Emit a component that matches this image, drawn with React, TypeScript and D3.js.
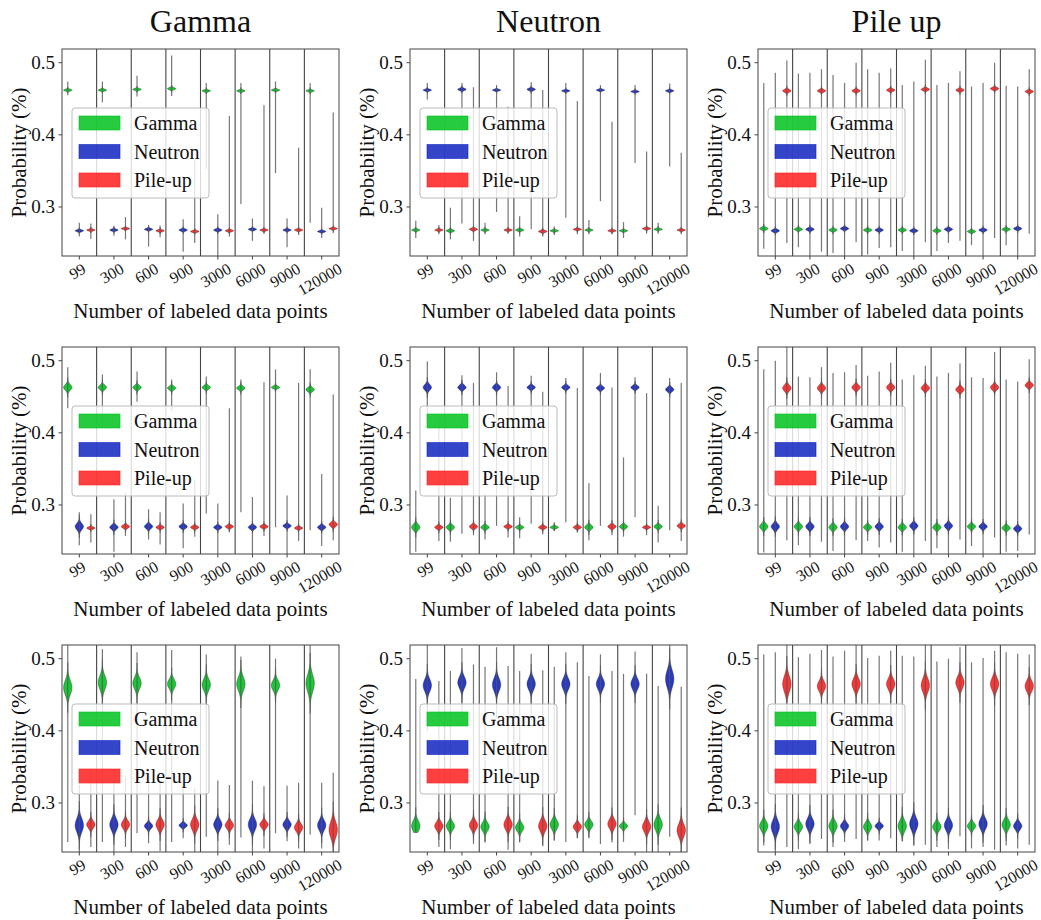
import React from "react";
import * as d3 from "d3";

const groups = ["99", "300", "600", "900", "3000", "6000", "9000", "120000"];
const classes = ["Gamma", "Neutron", "Pile-up"];
const colTitles = ["Gamma", "Neutron", "Pile up"];
const yTicks = [0.3, 0.4, 0.5];
const colors = ["#00c21f", "#1024c0", "#ff1f1f"];

// each entry: [median, spread, min, max] for one group
const r1GammaG = [[0.462, .0013, .455, .474], [.462, .0013, .445, .474], [.463, .0013, .453, .482], [.464, .0015, .454, .510], [.461, .0013, .353, .472], [.461, .0013, .304, .472], [.462, .0013, .347, .474], [.461, .0012, .278, .472]];
const r1GammaN = [[.267, .0013, .259, .278], [.268, .0013, .260, .274], [.269, .0013, .245, .275], [.268, .0015, .238, .283], [.268, .0015, .225, .290], [.269, .0013, .253, .284], [.268, .0013, .244, .284], [.266, .0012, .257, .299]];
const r1GammaP = [[.268, .0012, .256, .277], [.270, .0012, .255, .286], [.267, .0013, .258, .274], [.266, .0013, .250, .367], [.267, .0013, .259, .426], [.268, .0012, .263, .441], [.268, .0013, .261, .382], [.270, .0012, .264, .431]];

const r1NeutronG = [[.268, .0013, .257, .281], [.267, .0015, .255, .299], [.268, .0012, .262, .278], [.268, .0014, .259, .287], [.267, .0012, .261, .273], [.268, .0012, .262, .282], [.267, .0012, .257, .279], [.269, .0012, .263, .278]];
const r1NeutronN = [[.462, .0013, .449, .472], [.463, .0016, .277, .472], [.462, .0012, .293, .469], [.463, .0016, .269, .473], [.461, .0012, .285, .472], [.462, .0012, .308, .469], [.460, .0012, .361, .469], [.461, .0013, .356, .471]];
const r1NeutronP = [[.268, .0012, .262, .275], [.269, .0015, .253, .466], [.268, .0012, .263, .439], [.266, .0015, .259, .462], [.269, .0012, .262, .447], [.267, .0012, .262, .418], [.270, .0013, .263, .377], [.268, .0012, .262, .375]];

const r1PileG = [[.270, .0018, .242, .472], [.269, .0017, .244, .485], [.268, .0017, .236, .483], [.268, .0017, .234, .491], [.268, .0017, .239, .469], [.267, .0017, .239, .469], [.266, .0016, .247, .467], [.269, .0017, .247, .468]];
const r1PileN = [[.267, .0018, .225, .486], [.269, .0018, .225, .486], [.270, .0018, .225, .472], [.268, .0017, .243, .486], [.267, .0017, .225, .474], [.269, .0018, .250, .472], [.268, .0017, .225, .472], [.270, .0017, .225, .467]];
const r1PileP = [[.461, .0020, .250, .503], [.461, .0018, .238, .491], [.461, .0018, .251, .500], [.462, .0018, .244, .492], [.463, .0018, .251, .504], [.462, .0018, .253, .488], [.464, .0018, .257, .500], [.460, .0017, .263, .491]];

const r2GammaG = [[.463, .004, .434, .491], [.463, .003, .410, .481], [.463, .0028, .443, .485], [.462, .0025, .430, .474], [.463, .0025, .288, .478], [.462, .0025, .290, .474], [.463, .0018, .269, .488], [.460, .0028, .265, .488]];
const r2GammaN = [[.270, .0045, .244, .290], [.269, .003, .235, .308], [.270, .003, .252, .294], [.270, .0025, .240, .302], [.269, .0022, .225, .302], [.269, .0025, .225, .311], [.271, .0022, .225, .313], [.269, .0025, .243, .343]];
const r2GammaP = [[.268, .0016, .248, .287], [.270, .0022, .257, .317], [.269, .002, .245, .290], [.269, .002, .256, .335], [.270, .002, .262, .434], [.270, .002, .257, .470], [.268, .0017, .250, .469], [.273, .003, .251, .453]];

const r2NeutronG = [[.269, .004, .235, .320], [.269, .003, .249, .310], [.269, .0025, .252, .316], [.269, .002, .254, .283], [.269, .0016, .264, .276], [.269, .003, .251, .330], [.270, .0025, .256, .366], [.270, .0025, .248, .299]];
const r2NeutronN = [[.463, .004, .420, .499], [.463, .003, .260, .480], [.463, .003, .271, .484], [.463, .0025, .274, .479], [.463, .0025, .276, .476], [.462, .0025, .271, .483], [.463, .0025, .283, .477], [.460, .003, .265, .476]];
const r2NeutronP = [[.269, .0022, .250, .420], [.270, .0025, .258, .469], [.270, .002, .255, .465], [.269, .002, .259, .457], [.269, .002, .262, .462], [.270, .0025, .258, .463], [.269, .0016, .258, .455], [.271, .0025, .250, .469]];

const r2PileG = [[.270, .0038, .234, .488], [.270, .0035, .244, .478], [.269, .0035, .236, .483], [.269, .003, .250, .479], [.269, .0033, .235, .474], [.269, .0033, .240, .478], [.270, .003, .243, .477], [.268, .003, .235, .474]];
const r2PileN = [[.270, .004, .225, .500], [.270, .0037, .225, .477], [.270, .0035, .225, .484], [.270, .0033, .241, .485], [.271, .0035, .225, .480], [.271, .0035, .225, .483], [.270, .003, .225, .476], [.267, .003, .236, .471]];
const r2PileP = [[.462, .0042, .251, .525], [.462, .0038, .249, .491], [.463, .0035, .251, .494], [.463, .0035, .248, .497], [.462, .0035, .250, .493], [.460, .0035, .252, .496], [.463, .0035, .255, .512], [.466, .0032, .259, .502]];

const r3GammaG = [[.460, .010, .246, .525], [.467, .0095, .246, .513], [.466, .008, .258, .509], [.465, .0065, .246, .512], [.464, .008, .253, .506], [.465, .0095, .252, .503], [.463, .007, .258, .500], [.466, .012, .256, .525]];
const r3GammaN = [[.269, .0095, .225, .325], [.270, .008, .225, .331], [.268, .0038, .244, .330], [.269, .0028, .251, .331], [.270, .0065, .225, .331], [.270, .008, .225, .331], [.270, .005, .247, .324], [.269, .007, .237, .328]];
const r3GammaP = [[.270, .005, .239, .349], [.270, .0055, .239, .337], [.270, .0065, .233, .331], [.270, .0075, .225, .321], [.269, .005, .242, .325], [.270, .0045, .237, .323], [.266, .0055, .237, .328], [.263, .011, .225, .342]];

const r3NeutronG = [[.268, .0075, .259, .472], [.268, .0055, .236, .483], [.267, .006, .245, .489], [.266, .0055, .245, .483], [.270, .0065, .248, .489], [.270, .005, .251, .476], [.268, .0033, .246, .479], [.270, .008, .225, .462]];
const r3NeutronN = [[.463, .0085, .400, .525], [.467, .008, .410, .515], [.464, .009, .418, .516], [.465, .008, .415, .507], [.465, .008, .246, .509], [.465, .0075, .243, .506], [.465, .0075, .283, .510], [.472, .012, .253, .525]];
const r3NeutronP = [[.268, .0055, .239, .469], [.269, .006, .243, .492], [.270, .007, .235, .490], [.268, .0075, .240, .484], [.267, .0045, .251, .495], [.271, .0065, .245, .483], [.267, .007, .225, .479], [.262, .009, .225, .461]];

const r3PileG = [[.268, .0065, .241, .506], [.267, .0055, .236, .502], [.268, .0065, .239, .503], [.267, .0055, .248, .501], [.268, .0075, .247, .504], [.267, .0055, .239, .496], [.268, .0045, .237, .495], [.270, .0065, .241, .509]];
const r3PileN = [[.267, .009, .225, .509], [.271, .0075, .243, .507], [.268, .0045, .246, .511], [.268, .0033, .248, .504], [.271, .0085, .241, .503], [.269, .007, .236, .500], [.271, .0075, .239, .501], [.268, .005, .237, .507]];
const r3PileP = [[.465, .011, .239, .525], [.462, .007, .250, .512], [.465, .008, .250, .525], [.465, .0075, .251, .511], [.463, .0095, .242, .525], [.467, .008, .254, .516], [.465, .0085, .235, .511], [.462, .0075, .242, .506]];

const panels = [
  [[r1GammaG, r1GammaN, r1GammaP], [r1NeutronG, r1NeutronN, r1NeutronP], [r1PileG, r1PileN, r1PileP]],
  [[r2GammaG, r2GammaN, r2GammaP], [r2NeutronG, r2NeutronN, r2NeutronP], [r2PileG, r2PileN, r2PileP]],
  [[r3GammaG, r3GammaN, r3GammaP], [r3NeutronG, r3NeutronN, r3NeutronP], [r3PileG, r3PileN, r3PileP]],
];

const colX = [62, 410, 758];
const rowY = [49, 347, 645];
const pw = 277, ph = 207;
const HW = 4.2;
const font = "Liberation Serif, DejaVu Serif, serif";

function Panel({ r, c }) {
  const x0 = colX[c], y0 = rowY[r];
  const x = d3.scaleLinear().domain([0, 24]).range([x0, x0 + pw]);
  const y = d3.scaleLinear().domain([0.232, 0.519]).range([y0 + ph, y0]);
  const data = panels[r][c];
  const clipId = `clip-${r}-${c}`;

  const violin = (d, cx) => {
    const [m, s, lo, hi] = d;
    const a = Math.max(lo, m - 3.5 * s), b = Math.min(hi, m + 3.5 * s);
    const vs = d3.range(61).map((i) => a + ((b - a) * i) / 60);
    const w = (v) => HW * Math.exp(-0.5 * ((v - m) / s) ** 2);
    return d3.area().y((v) => y(v)).x0((v) => cx - w(v)).x1((v) => cx + w(v))(vs);
  };

  return (
    <g>
      <defs>
        <clipPath id={clipId}>
          <rect x={x0} y={y0} width={pw} height={ph} />
        </clipPath>
      </defs>
      <g clipPath={`url(#${clipId})`}>
        {d3.range(1, 8).map((g) => (
          <line key={g} x1={x(g * 3)} x2={x(g * 3)} y1={y0} y2={y0 + ph} stroke="#444" strokeWidth={1.1} />
        ))}
        {data.map((series, k) =>
          series.map((d, g) => {
            const cx = x(g * 3 + k + 0.5);
            return (
              <g key={`${k}-${g}`}>
                <path d={violin(d, cx)} fill={colors[k]} fillOpacity={0.9} stroke="#222" strokeOpacity={0.55} strokeWidth={0.7} />
                <line x1={cx} x2={cx} y1={y(d[2])} y2={y(d[3])} stroke="#555" strokeOpacity={0.8} strokeWidth={1.2} />
              </g>
            );
          })
        )}
      </g>
      <rect x={x0} y={y0} width={pw} height={ph} fill="none" stroke="#444" strokeWidth={1} />
      {yTicks.map((t) => (
        <g key={t}>
          <line x1={x0 - 3.5} x2={x0} y1={y(t)} y2={y(t)} stroke="#444" />
          <text x={x0 - 7} y={y(t)} textAnchor="end" dominantBaseline="central" fontSize={19} fontFamily={font} fill="#111">
            {t.toFixed(1)}
          </text>
        </g>
      ))}
      {groups.map((lab, g) => {
        const tx = x(g * 3 + 1.5);
        const fs = 16;
        const L = lab.length * 0.5 * fs;
        const cy = y0 + ph + 6 + (L * 0.5 + 0.75 * fs * 0.866) / 2;
        return (
          <g key={lab}>
            <line x1={tx} x2={tx} y1={y0 + ph} y2={y0 + ph + 3.5} stroke="#444" />
            <text transform={`translate(${tx - 2},${cy}) rotate(-30)`} textAnchor="middle" dominantBaseline="central" fontSize={fs} fontFamily={font} fill="#111">
              {lab}
            </text>
          </g>
        );
      })}
      <text x={x0 + pw / 2} y={y0 + ph + 62} textAnchor="middle" fontSize={21} fontFamily={font} fill="#111">
        Number of labeled data points
      </text>
      <text transform={`translate(${x0 - 43},${y0 + ph / 2}) rotate(-90)`} textAnchor="middle" dominantBaseline="central" fontSize={21} fontFamily={font} fill="#111">
        Probability (%)
      </text>
      <g transform={`translate(${x0 + 10},${y0 + 59})`}>
        <rect width={137} height={90} rx={3} fill="#fff" fillOpacity={0.8} stroke="#bbb" strokeWidth={1} />
        {classes.map((name, i) => (
          <g key={name}>
            <rect x={7} y={8 + 28.5 * i} width={41} height={14} fill={colors[i]} fillOpacity={0.85} stroke={colors[i]} strokeOpacity={0.6} />
            <text x={62} y={15 + 28.5 * i} dominantBaseline="central" fontSize={20} fontFamily={font} fill="#111">
              {name}
            </text>
          </g>
        ))}
      </g>
      {r === 0 && (
        <text x={x0 + pw / 2} y={32} textAnchor="middle" fontSize={32} fontFamily={font} fill="#111">
          {colTitles[c]}
        </text>
      )}
    </g>
  );
}

export default function App() {
  return (
    <svg width={1041} height={920} style={{ position: "absolute", left: 0, top: 0, background: "#fff" }}>
      <rect width={1041} height={920} fill="#fff" />
      {[0, 1, 2].map((r) => [0, 1, 2].map((c) => <Panel key={`${r}${c}`} r={r} c={c} />))}
    </svg>
  );
}
